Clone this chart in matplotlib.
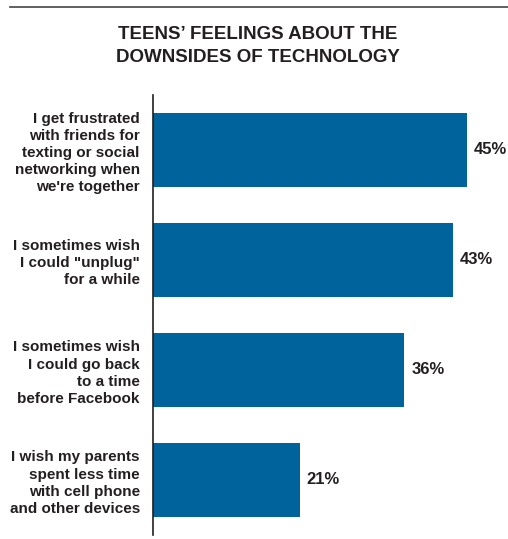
import matplotlib
matplotlib.use("Agg")
import matplotlib.pyplot as plt
from matplotlib.lines import Line2D

categories = [
    "I get frustrated\nwith friends for\ntexting or social\nnetworking when\nwe're together",
    "I sometimes wish\nI could \"unplug\"\nfor a while",
    "I sometimes wish\nI could go back\nto a time\nbefore Facebook",
    "I wish my parents\nspent less time\nwith cell phone\nand other devices",
]
values = [45, 43, 36, 21]
title = "TEENS\u2019 FEELINGS ABOUT THE\nDOWNSIDES OF TECHNOLOGY"

FONT = ["Liberation Sans Narrow", "Liberation Sans", "DejaVu Sans"]
TXT = "#231f20"
BAR = "#00639b"

plt.rcParams['font.family'] = FONT

fig = plt.figure(figsize=(5.08, 5.39), dpi=100)
ax = fig.add_axes([153/508, 1-535/539, 1-153/508-6/508, (535-95)/539])

y = list(range(len(values)))
ax.barh(y, values, height=0.68, color=BAR)
ax.set_xlim(0, 50)
ax.set_ylim(3.5, -0.5)

for yi, v in zip(y, values):
    ax.text(v + 1.0, yi, f"{v}%", va="center", ha="left", fontsize=12,
            fontweight="bold", color=TXT)

ax.set_yticks(y)
ax.set_yticklabels(categories, fontsize=11, fontweight="bold", color=TXT,
                   linespacing=1.28, ha="right")
ax.tick_params(axis="y", length=0, pad=9.5)
ax.set_xticks([])
for s in ["top", "right", "bottom"]:
    ax.spines[s].set_visible(False)
ax.spines["left"].set_color(TXT)
ax.spines["left"].set_linewidth(1.2)

fig.text(258/508, 1-46/539, title, ha="center", va="center", fontsize=13.5,
         fontweight="bold", color=TXT, linespacing=1.45)

fig.add_artist(Line2D([10/508, 1], [1-7/539, 1-7/539], transform=fig.transFigure,
                      color="#444444", linewidth=1.2))

fig.savefig("out.png", dpi=100)
